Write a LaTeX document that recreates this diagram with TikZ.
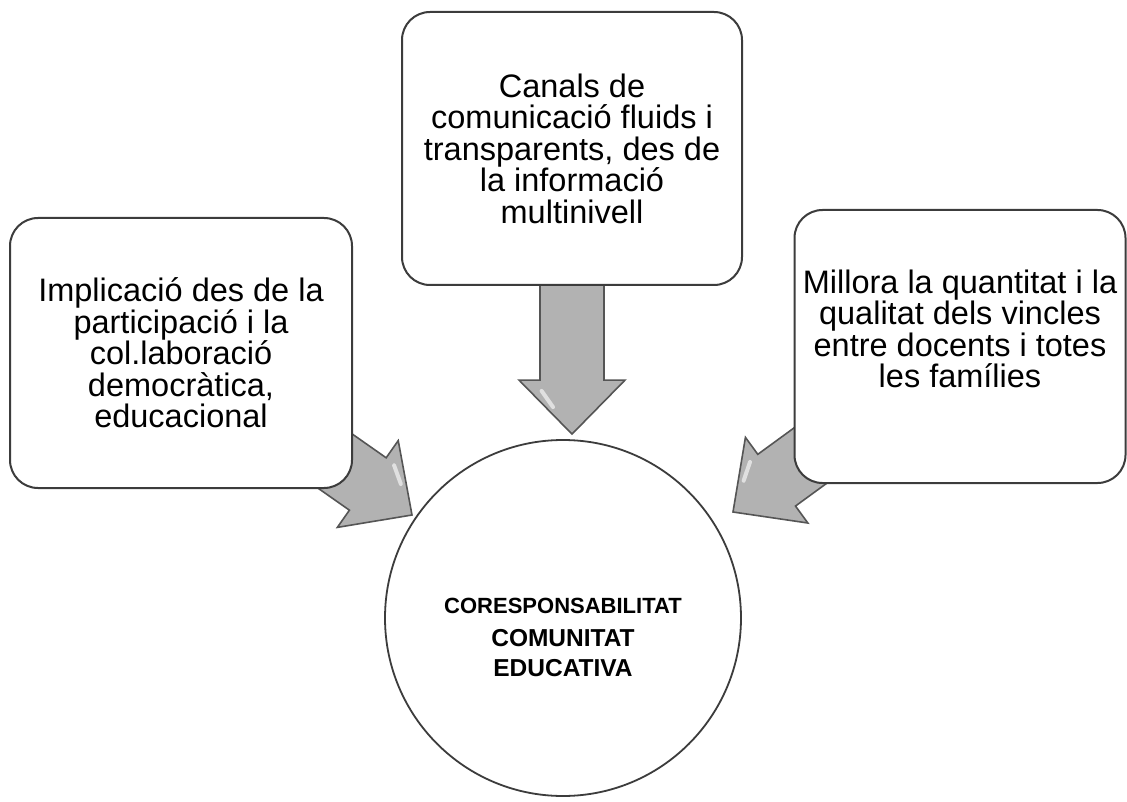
\documentclass[tikz,border=0pt]{standalone}
\usepackage{fontspec}
\setmainfont{Liberation Sans}
\usepackage{tikz}
\usetikzlibrary{calc,backgrounds}
\definecolor{voraFosca}  {RGB}{60,  60,  60}
\definecolor{fletxaGris} {RGB}{178, 178, 178}
\definecolor{fletxaVora} {RGB}{85,  85,  85}

% fletxa de bloc: #1 node d'origen, #2 punta, #3 costat de la brillantor
\newcommand{\fletxabloc}[3]{%
  \coordinate (base) at ($(#2)!54pt!(#1)$);
  \draw[fletxa] ($(#1)!32pt!90:(#2)$) -- ($(base)!32pt!90:(#2)$)
    -- ($(base)!53pt!90:(#2)$) -- (#2) -- ($(base)!53pt!-90:(#2)$)
    -- ($(base)!32pt!-90:(#2)$) -- ($(#1)!32pt!-90:(#2)$) -- cycle;
  \coordinate (brill) at ($(base)!38pt!#3:(#2)$);
  \draw[brillant] ($(brill)!0.2!(#2)$) -- ($(brill)!0.5!(#2)$);
}

\begin{document}
\begin{tikzpicture}[x=1pt,y=-1pt,
    caixa/.style={draw=voraFosca,line width=2pt,fill=white,rounded corners=28pt,
      align=center,inner sep=0pt,font=\fontsize{32.5}{31.5}\selectfont},
    cercle/.style={circle,draw=voraFosca,line width=1.8pt,fill=white,inner sep=0pt},
    nucli/.style={align=center,inner sep=0pt,font=\bfseries\fontsize{24.5}{30}\selectfont},
    fletxa/.style={fill=fletxaGris,draw=fletxaVora,line width=1.6pt},
    brillant/.style={white,line width=4pt,line cap=round,opacity=0.6}]
  \useasboundingbox (0,0) rectangle (1127,802);

  % Cercle central
  \node[cercle,minimum size=356pt] (core) at (563,618) {};
  \node[nucli] (nucli) at ($(core)+(0,19)$)
    {{\fontsize{22}{26}\selectfont CORESPONSABILITAT}\\[3pt]COMUNITAT\\EDUCATIVA};

  % Caixes
  \node[caixa,minimum width=342pt,minimum height=270pt] (impl) at (181,353)
    {Implicació des de la\\participació i la\\col.laboració\\democràtica,\\educacional};
  \node[caixa,minimum width=340pt,minimum height=273pt] (canals) at (572,148.5)
    {Canals de\\comunicació fluids i\\transparents, des de\\la informació\\multinivell};
  \node[caixa,minimum width=331pt,minimum height=273pt,text depth=36pt] (millora) at (960,346.5)
    {Millora la quantitat i la\\qualitat dels vincles\\entre docents i totes\\les famílies};

  % Puntes de les fletxes
  \coordinate (puntaE) at ($(core)+(-151,-103)$);
  \coordinate (puntaC) at ($(canals |- core.north)+(0,-5)$);
  \coordinate (puntaD) at ($(core)+(170,-106)$);

  % Fletxes cap al cercle
  \begin{scope}[on background layer]
    \fletxabloc{impl}{puntaE}{90}
    \fletxabloc{canals}{puntaC}{-90}
    \fletxabloc{millora}{puntaD}{-90}
  \end{scope}
\end{tikzpicture}
\end{document}
